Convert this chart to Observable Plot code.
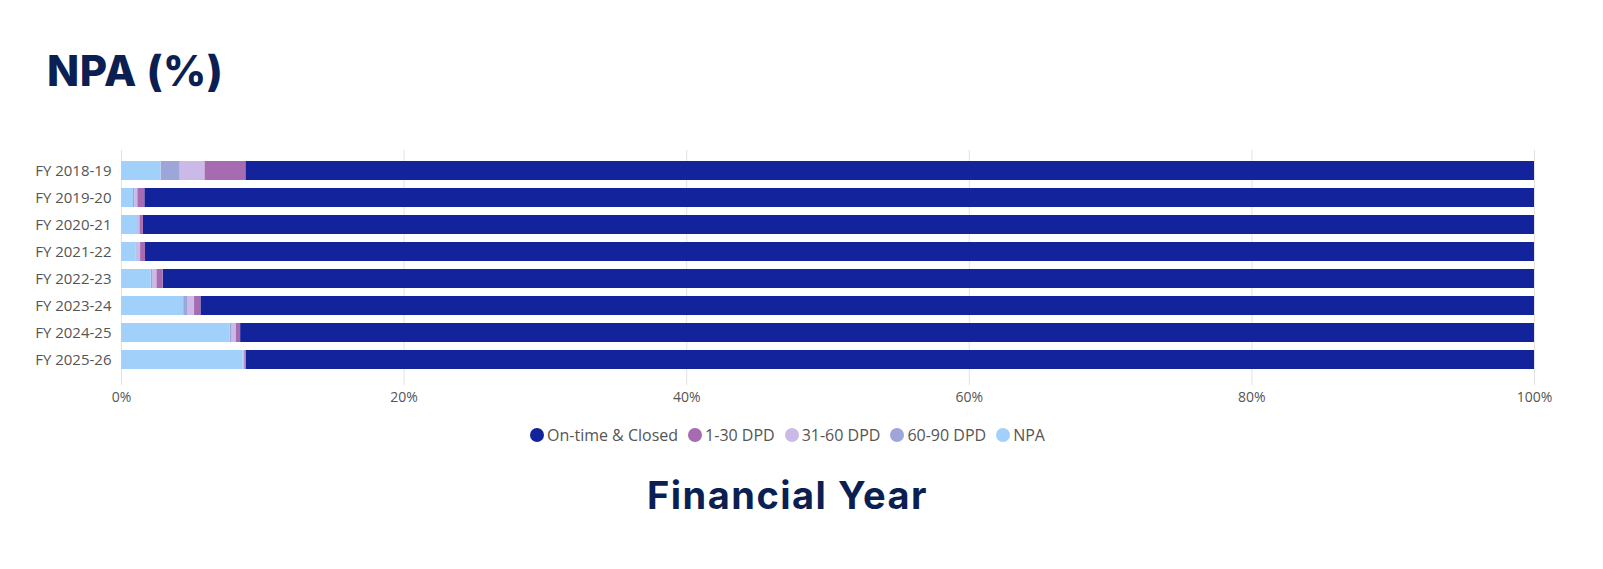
<!DOCTYPE html>
<html>
<head>
<meta charset="utf-8">
<script src="https://cdn.jsdelivr.net/npm/d3@7"></script>
<script src="https://cdn.jsdelivr.net/npm/@observablehq/plot@0.6"></script>
<style>
  html, body { margin: 0; padding: 0; background: #fff; }
  #wrap { position: relative; width: 1603px; height: 569px; overflow: hidden; font-family: "Open Sans", "Noto Sans", sans-serif; }
  #title { position: absolute; left: 47px; top: 45px; font-family: Inter, "Open Sans", sans-serif; font-weight: 800; font-size: 42px; color: #0b1f52; letter-spacing: 0.5px; }
  #chart { position: absolute; left: 0; top: 130px; }
  #legend { position: absolute; left: 0; width: 1575px; top: 424px; display: flex; justify-content: center; gap: 10px; font-size: 16px; color: #555; }
  #legend .item { display: flex; align-items: center; gap: 3px; }
  #legend .sw { width: 14px; height: 14px; border-radius: 50%; display: inline-block; }
  #xlabel { position: absolute; left: 0; width: 1575px; top: 472px; text-align: center; font-family: Inter, "Open Sans", sans-serif; font-weight: 700; font-size: 38px; letter-spacing: 1.5px; color: #0b1f52; }
</style>
</head>
<body>
<div id="wrap">
  <div id="title">NPA (%)</div>
  <div id="chart"></div>
  <div id="legend"></div>
  <div id="xlabel">Financial Year</div>
</div>
<script>
const years = ["FY 2018-19","FY 2019-20","FY 2020-21","FY 2021-22","FY 2022-23","FY 2023-24","FY 2024-25","FY 2025-26"];
const npa      = [2.8, 0.85, 1.15, 1.05, 2.1, 4.4, 7.7, 8.6];
const dpd60_90 = [1.35, 0.1, 0.05, 0.05, 0.1, 0.27, 0.13, 0.02];
const dpd31_60 = [1.75, 0.2, 0.1, 0.25, 0.3, 0.5, 0.27, 0.1];
const dpd1_30  = [2.9, 0.5, 0.25, 0.35, 0.45, 0.45, 0.33, 0.1];
const onTime   = [91.2, 98.35, 98.45, 98.3, 97.05, 94.38, 91.57, 91.18];

const seriesNames = ["On-time & Closed", "1-30 DPD", "31-60 DPD", "60-90 DPD", "NPA"];
const seriesColors = ["#13239c", "#a66bb0", "#cbb9e8", "#9ea6d9", "#a1d1fb"];
const seriesValues = [onTime, dpd1_30, dpd31_60, dpd60_90, npa];
const stackOrder = ["NPA", "60-90 DPD", "31-60 DPD", "1-30 DPD", "On-time & Closed"];
const xTicks = [0, 20, 40, 60, 80, 100];

const rows = [];
years.forEach((y, i) => {
  seriesNames.forEach((s, j) => rows.push({year: y, series: s, value: seriesValues[j][i]}));
});

const plot = Plot.plot({
  width: 1603,
  height: 290,
  marginLeft: 121,
  marginRight: 69,
  marginTop: 25,
  marginBottom: 45,
  style: {fontFamily: "'Open Sans', 'Noto Sans', sans-serif", fontSize: "14px", color: "#555"},
  x: {domain: [0, 100], ticks: xTicks, tickFormat: d => d + "%", tickSize: 0, tickPadding: 17, label: null},
  y: {domain: years, paddingInner: 0.31, paddingOuter: 0.1, label: null, tickSize: 0, tickPadding: 10},
  color: {domain: seriesNames, range: seriesColors},
  marks: [
    Plot.ruleX(xTicks, {stroke: "#e3e3e3", strokeWidth: 1, insetTop: -5, insetBottom: -10}),
    Plot.barX(rows, Plot.stackX({
      y: "year", x: "value", fill: "series", z: "series",
      order: stackOrder
    }))
  ]
});
plot.querySelectorAll("g[aria-label='y-axis tick label'] text").forEach(t => t.style.fontSize = "15px");
document.getElementById("chart").appendChild(plot);

const legend = document.getElementById("legend");
seriesNames.forEach((s, j) => {
  const it = document.createElement("div");
  it.className = "item";
  const sw = document.createElement("span");
  sw.className = "sw";
  sw.style.background = seriesColors[j];
  const t = document.createElement("span");
  t.textContent = s;
  it.appendChild(sw); it.appendChild(t);
  legend.appendChild(it);
});
</script>
</body>
</html>
